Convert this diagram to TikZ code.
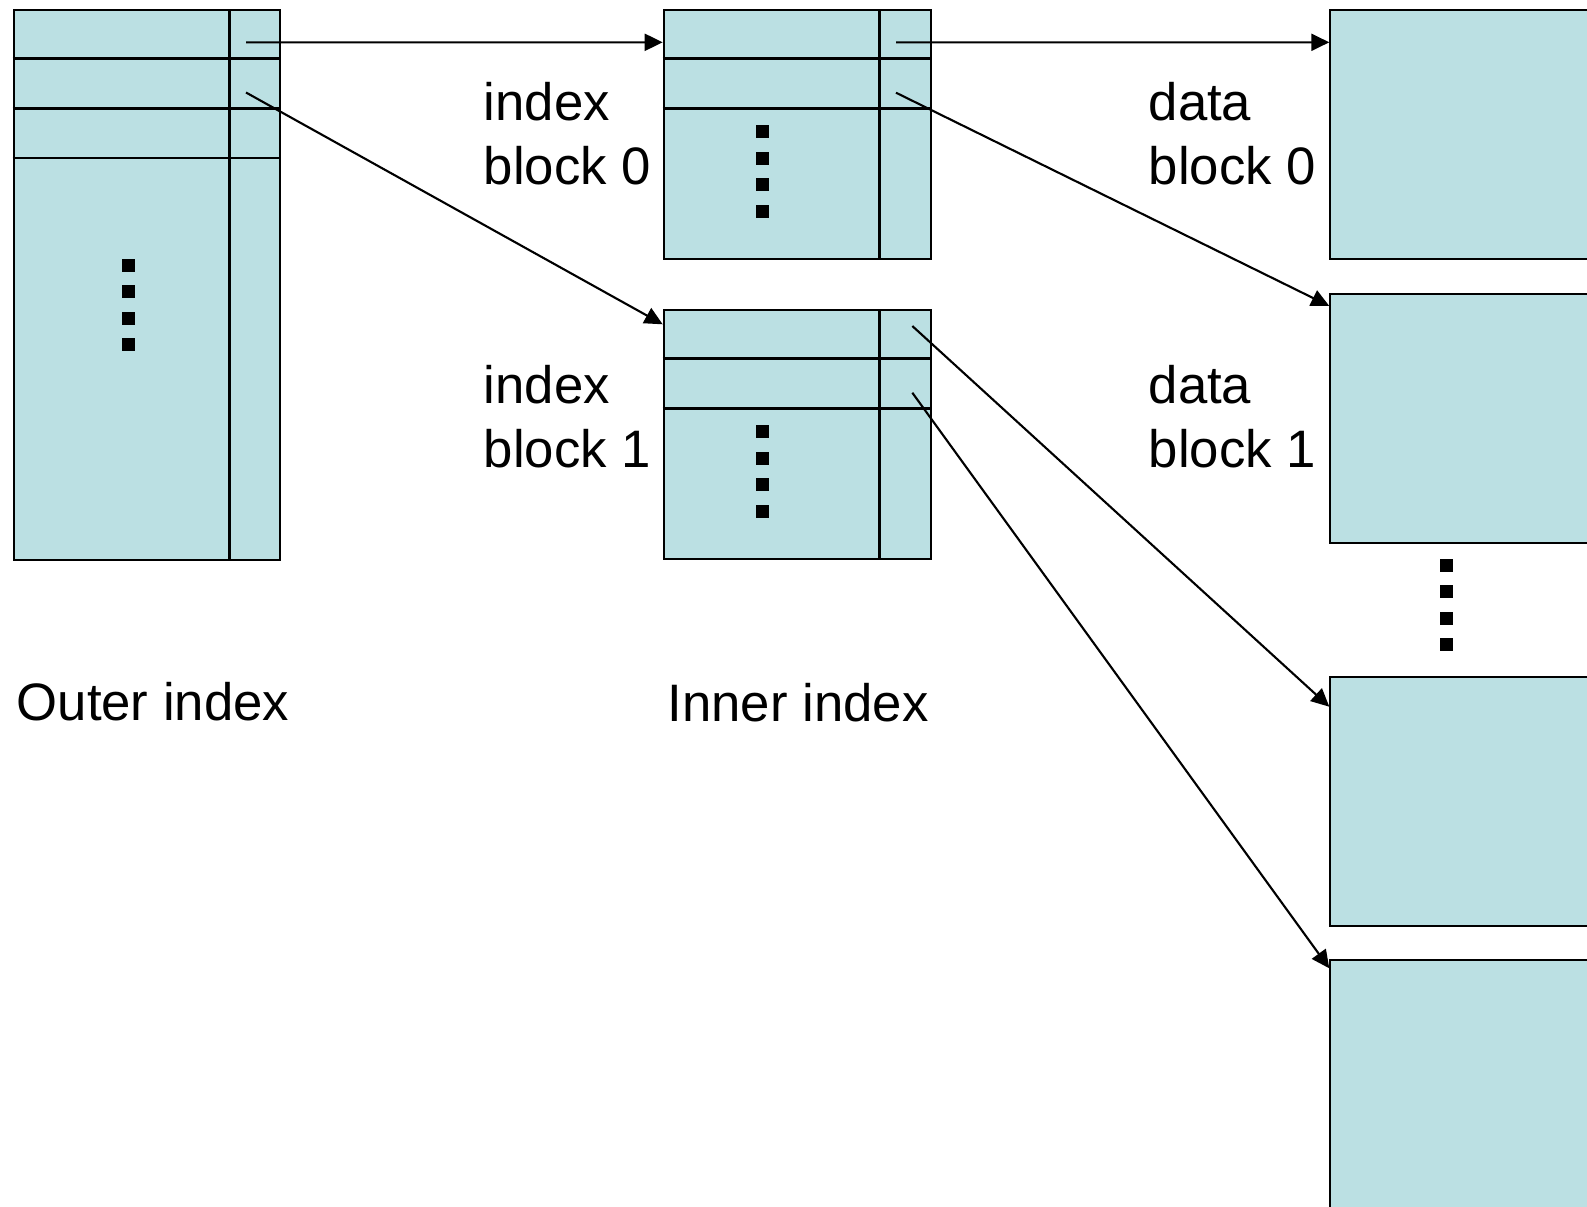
\documentclass[tikz,border=0pt]{standalone}
\usepackage{fontspec}
\setmainfont{Liberation Sans}
\usepackage{tikz}
\usetikzlibrary{arrows.meta}
\usetikzlibrary{positioning}
\definecolor{blkfill}{RGB}{187,224,227}

\begin{document}
\begin{tikzpicture}[x=1cm,y=1cm,
  blk/.style={draw,line width=0.6pt,fill=blkfill,rectangle,anchor=north west,inner sep=0pt,minimum height=2.493cm},
  grid/.style={line width=0.75pt},
  ptr/.style={line width=0.6pt,-{Triangle[length=0.18cm,width=0.17cm]}},
  lbl/.style={font=\fontsize{15pt}{18.1pt}\selectfont,align=left,anchor=base west,inner sep=0pt}]

  \useasboundingbox (0,0) rectangle (15.87,-12.06);
  \clip (0,0) rectangle (15.87,-12.06);

  	\def\r{0.497};
	\def\s{0.13};

%outer index
  \node[blk,minimum width=2.666cm,minimum height=5.496cm] (outer) at (0.127,-0.09) {};
  \draw[grid] (2.295,-0.09) -- (2.295,-5.586);
    \foreach \i in {1,2,3}{
         \draw[grid] (0.127,-0.09-\i*\r) -- (2.793,-0.09-\i*\r);
    }

%inner index
    \foreach \name/\dy in {ib0/0,ib1/3}{
         \node[blk,minimum width=2.67cm] (\name) at (6.627,-0.09-\dy) {};
         \draw[grid] (8.793,-0.09-\dy) -- (8.793,-2.583-\dy);
         \draw[grid] (6.627,-0.09-\r-\dy) -- (9.297,-0.09-\r-\dy);
         \draw[grid] (6.627,-0.09-2*\r-\dy) -- (9.297,-0.09-2*\r-\dy);
    }

%data blocks
    \foreach \name/\dy in {db0/0.09,db1/2.927,db2/6.757,db3/9.59}{
         \node[blk,minimum width=3cm] (\name) at (13.293,-\dy) {};
    }

%dots
    \foreach \x/\y in {1.285/2.65,7.627/1.317,7.627/4.317,14.46/5.65}{
       \foreach \k in {0,...,3}{
             \fill (\x-\s/2,-\y-\k*0.265+\s/2) rectangle ++(\s,-\s);
       }
    }

%labels (base = last line)
  \node[lbl] (lib0) at (4.83,-1.84) {index\\block 0};
  \node[lbl] (lib1) at (4.83,-4.675) {index\\block 1};
  \node[lbl] (ldb0) at (11.48,-1.84) {data\\block 0};
  \node[lbl] (ldb1) at (11.48,-4.675) {data\\block 1};
  \node[lbl] (louter) at (0.16,-7.2) {Outer index};
  \node[lbl] (linner) at (6.67,-7.21) {Inner index};

%pointers
  \coordinate (o0) at (2.46,-0.423);
  \coordinate (o1) at (2.46,-0.925);
  \coordinate (i00) at (8.96,-0.423);
  \coordinate (i01) at (8.96,-0.927);
  \coordinate (i10) at (9.123,-3.26);
  \coordinate (i11) at (9.123,-3.927);

  \draw[ptr] (o0) -- ([yshift=-0.333cm]ib0.north west);
  \draw[ptr] (o1) -- ([yshift=-0.153cm]ib1.north west);
  \draw[ptr] (i00) -- ([yshift=-0.333cm]db0.north west);
  \draw[ptr] (i01) -- ([yshift=-0.133cm]db1.north west);
  \draw[ptr] (i10) -- ([yshift=-0.31cm]db2.north west);
  \draw[ptr] (i11) -- ([yshift=-0.093cm]db3.north west);

\end{tikzpicture}
\end{document}
